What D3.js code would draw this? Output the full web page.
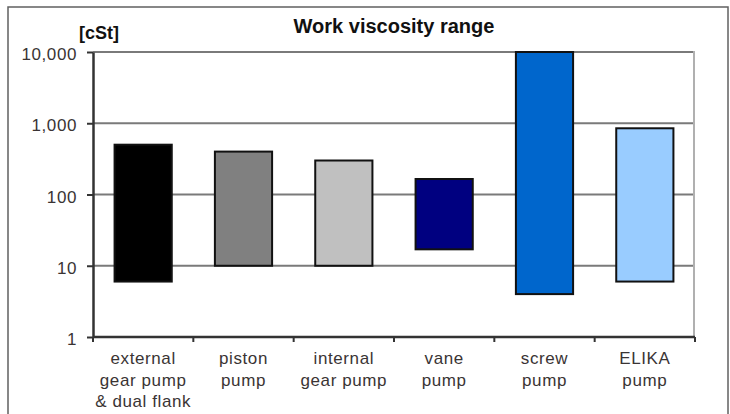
<!DOCTYPE html>
<html>
<head>
<meta charset="utf-8">
<script src="https://cdn.jsdelivr.net/npm/d3@7"></script>
<style>
  body { margin: 0; background: #fff; }
  svg { font-family: "Liberation Sans", Arial, sans-serif; }
  .grid line { stroke: #7a7a7a; stroke-width: 2px; }
  .lbl { fill: #3a3434; font-size: 17px; letter-spacing: 0.6px; }
</style>
</head>
<body>
<div id="chart"></div>
<script>

  // pumps and their working viscosity range, in cSt
  var categories = ["external gear pump & dual flank", "piston pump", "internal gear pump",
                    "vane pump", "screw pump", "ELIKA pump"];
  var labelLines = [["external", "gear pump", "& dual flank"], ["piston", "pump"],
                    ["internal", "gear pump"], ["vane", "pump"], ["screw", "pump"], ["ELIKA", "pump"]];
  var lowValues  = [6, 10, 10, 17, 4, 6];
  var highValues = [500, 400, 300, 165, 10000, 850];
  var barColors  = ["#000000", "#808080", "#c0c0c0", "#000080", "#0066cc", "#99ccff"];
  var yTicks     = [1, 10, 100, 1000, 10000];

  var width = 730, height = 414;
  var plotLeft = 93, plotRight = 695, plotTop = 52, plotBottom = 337;

  var svg = d3.select("#chart").append("svg")
      .attr("width", width)
      .attr("height", height);

  // outer frame
  svg.append("rect")
      .attr("x", 8).attr("y", 7)
      .attr("width", 720).attr("height", 420)
      .attr("fill", "none")
      .attr("stroke", "#606060")
      .attr("stroke-width", 1.5);

  var x = d3.scaleBand()
      .domain(categories)
      .range([plotLeft, plotRight])
      .paddingInner(0.43)
      .paddingOuter(0.215);

  var y = d3.scaleLog()
      .domain([1, 10000])
      .range([plotBottom, plotTop]);

  // gridlines
  svg.append("g")
      .attr("class", "grid")
    .selectAll("line")
    .data(yTicks.slice(1))
    .enter().append("line")
      .attr("x1", plotLeft).attr("x2", plotRight - 1)
      .attr("y1", function(d) { return y(d); })
      .attr("y2", function(d) { return y(d); });

  // plot area right edge
  svg.append("line")
      .attr("x1", plotRight - 1).attr("x2", plotRight - 1)
      .attr("y1", plotTop - 1).attr("y2", plotBottom)
      .attr("stroke", "#b0b0b0").attr("stroke-width", 2);

  // bars
  svg.append("g")
    .selectAll("rect")
    .data(categories)
    .enter().append("rect")
      .attr("x", function(d) { return x(d); })
      .attr("width", x.bandwidth())
      .attr("y", function(d, i) { return y(highValues[i]); })
      .attr("height", function(d, i) { return y(lowValues[i]) - y(highValues[i]); })
      .attr("fill", function(d, i) { return barColors[i]; })
      .attr("stroke", "#111")
      .attr("stroke-width", 2);

  // y axis
  var yAxis = svg.append("g")
      .attr("transform", "translate(" + plotLeft + ",0)")
      .call(d3.axisLeft(y).tickValues(yTicks).tickFormat(d3.format(",")).tickSize(6).tickSizeOuter(0));
  yAxis.select(".domain").attr("stroke", "#333").attr("stroke-width", 2.5);
  yAxis.selectAll(".tick line").attr("stroke", "#333").attr("stroke-width", 2);
  yAxis.selectAll(".tick text")
      .attr("class", "lbl")
      .attr("x", -16)
      .attr("dy", "0.45em")
      .style("font-family", "'Liberation Sans', Arial, sans-serif");

  // x axis line with ticks at category boundaries
  svg.append("line")
      .attr("x1", plotLeft).attr("x2", plotRight)
      .attr("y1", plotBottom).attr("y2", plotBottom)
      .attr("stroke", "#333").attr("stroke-width", 2.5);

  svg.append("g")
    .selectAll("line")
    .data(d3.range(categories.length + 1))
    .enter().append("line")
      .attr("x1", function(i) { return plotLeft + i * x.step(); })
      .attr("x2", function(i) { return plotLeft + i * x.step(); })
      .attr("y1", plotBottom).attr("y2", plotBottom + 5)
      .attr("stroke", "#333").attr("stroke-width", 2);

  // category labels
  var labels = svg.append("g")
    .selectAll("text")
    .data(categories)
    .enter().append("text")
      .attr("class", "lbl")
      .attr("text-anchor", "middle")
      .attr("x", function(d) { return x(d) + x.bandwidth() / 2; })
      .attr("y", 364);

  labels.selectAll("tspan")
    .data(function(d, i) { return labelLines[i]; })
    .enter().append("tspan")
      .attr("x", function() { return this.parentNode.getAttribute("x"); })
      .attr("dy", function(d, i) { return i === 0 ? 0 : 21.5; })
      .text(function(d) { return d; });

  // title and unit
  svg.append("text")
      .attr("x", (plotLeft + plotRight) / 2)
      .attr("y", 33)
      .attr("text-anchor", "middle")
      .attr("font-weight", "bold")
      .attr("font-size", 20)
      .attr("fill", "#111")
      .text("Work viscosity range");

  svg.append("text")
      .attr("x", 79)
      .attr("y", 39)
      .attr("font-weight", "bold")
      .attr("font-size", 18)
      .attr("fill", "#111")
      .text("[cSt]");

</script>
</body>
</html>
